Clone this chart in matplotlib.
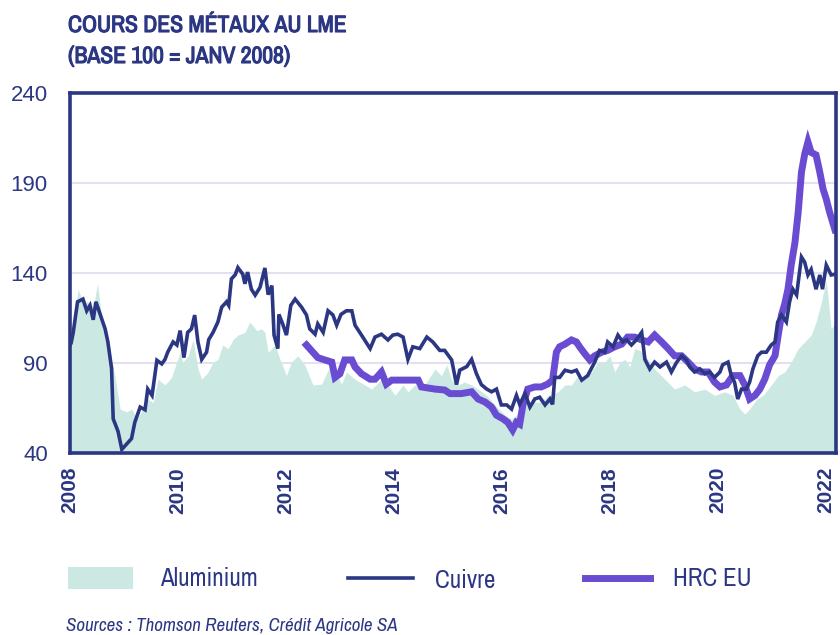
import matplotlib
matplotlib.use("Agg")
import matplotlib.pyplot as plt
from matplotlib.patches import Rectangle
from matplotlib.lines import Line2D
from matplotlib import font_manager
import matplotlib.patheffects as pe

# ---------------- data (decimal years, index base 100 = Jan 2008) -------------
cuivre_years = [2008.00, 2008.02, 2008.06, 2008.14, 2008.24, 2008.31, 2008.37, 2008.43, 2008.48, 2008.56,
                2008.65, 2008.70, 2008.77, 2008.80, 2008.89, 2008.96, 2009.05, 2009.14, 2009.20, 2009.30,
                2009.39, 2009.44, 2009.52, 2009.61, 2009.70, 2009.76, 2009.81, 2009.91, 2009.98, 2010.04,
                2010.11, 2010.18, 2010.25, 2010.31, 2010.37, 2010.44, 2010.53, 2010.57, 2010.65, 2010.74,
                2010.81, 2010.90, 2010.94, 2010.99, 2011.06, 2011.11, 2011.20, 2011.24, 2011.29, 2011.36,
                2011.43, 2011.52, 2011.61, 2011.67, 2011.74, 2011.78, 2011.85, 2011.87, 2011.94, 2012.01,
                2012.09, 2012.17, 2012.29, 2012.38, 2012.44, 2012.54, 2012.59, 2012.69, 2012.78, 2012.87,
                2012.94, 2013.02, 2013.12, 2013.22, 2013.28, 2013.40, 2013.56, 2013.65, 2013.77, 2013.89,
                2013.98, 2014.07, 2014.17, 2014.26, 2014.35, 2014.48, 2014.61, 2014.72, 2014.85, 2014.94,
                2015.07, 2015.16, 2015.22, 2015.35, 2015.44, 2015.53, 2015.62, 2015.72, 2015.81, 2015.90,
                2015.99, 2016.09, 2016.18, 2016.27, 2016.33, 2016.43, 2016.52, 2016.61, 2016.70, 2016.80,
                2016.89, 2016.94, 2016.98, 2017.07, 2017.17, 2017.29, 2017.38, 2017.48, 2017.59, 2017.72,
                2017.81, 2017.91, 2017.96, 2018.06, 2018.15, 2018.24, 2018.31, 2018.40, 2018.49, 2018.59,
                2018.65, 2018.74, 2018.83, 2018.93, 2019.05, 2019.14, 2019.24, 2019.33, 2019.42, 2019.48,
                2019.57, 2019.67, 2019.76, 2019.85, 2019.94, 2020.04, 2020.09, 2020.19, 2020.25, 2020.31,
                2020.37, 2020.44, 2020.53, 2020.59, 2020.65, 2020.74, 2020.81, 2020.90, 2020.99, 2021.06,
                2021.11, 2021.18, 2021.27, 2021.33, 2021.39, 2021.46, 2021.55, 2021.61, 2021.67, 2021.73,
                2021.82, 2021.89, 2021.94, 2022.01, 2022.10, 2022.19]
cuivre_values = [100, 101, 107, 124, 125.5, 119, 122, 114, 124, 117,
                 109, 102, 87, 59, 52, 42, 45, 48, 57, 65.5,
                 64, 75.5, 72, 91.5, 89.5, 92, 96, 101.7, 100, 108,
                 93, 107, 109, 116.6, 101.7, 92, 96, 103, 107, 112.8,
                 121, 124, 122, 136.7, 139, 143, 139.4, 134, 140.5, 131,
                 127.7, 132, 142.8, 128, 133, 105.5, 98, 117, 111.7, 105.5,
                 122, 125.5, 121, 116.7, 109, 106, 111.7, 107, 119, 116.7,
                 111, 117, 119, 119, 111, 105.5, 98, 104.4, 106, 102.8,
                 105.5, 106, 104.4, 92, 99, 98, 104.4, 101.7, 97, 97,
                 91.7, 78, 86, 88, 92, 84, 78, 75.5, 74, 75.5,
                 66.7, 66.7, 64.4, 72, 67, 73, 65.5, 70, 71, 66.7,
                 70, 67, 82, 82, 86, 85, 86, 80.5, 83, 90.5,
                 97, 96, 101.7, 99, 105.5, 101.7, 103, 100, 102.8, 107,
                 92, 86.7, 90.5, 87.8, 90.5, 85, 90.5, 94, 91.7, 87.8,
                 85, 86.7, 84, 85, 82, 85, 89, 90.5, 83, 79.4,
                 70, 75.5, 75.5, 79.4, 86.7, 94, 96, 96, 100, 101.7,
                 112.8, 116.7, 112.8, 124, 131, 127.8, 148.9, 146, 138.9, 142,
                 131, 138.9, 131, 144.4, 138.9, 139.4]

hrc_years = [2012.38, 2012.50, 2012.59, 2012.72, 2012.85, 2012.91, 2013.00, 2013.09, 2013.22, 2013.28,
             2013.40, 2013.56, 2013.65, 2013.77, 2013.86, 2013.96, 2014.14, 2014.45, 2014.51, 2014.76,
             2014.94, 2015.04, 2015.25, 2015.44, 2015.56, 2015.69, 2015.81, 2015.90, 2016.02, 2016.11,
             2016.20, 2016.27, 2016.33, 2016.39, 2016.48, 2016.61, 2016.73, 2016.85, 2016.94, 2017.01,
             2017.07, 2017.17, 2017.29, 2017.38, 2017.44, 2017.54, 2017.63, 2017.72, 2017.85, 2017.96,
             2018.09, 2018.22, 2018.33, 2018.46, 2018.59, 2018.71, 2018.83, 2018.96, 2019.08, 2019.20,
             2019.33, 2019.45, 2019.57, 2019.70, 2019.82, 2019.94, 2020.04, 2020.16, 2020.28, 2020.41,
             2020.50, 2020.59, 2020.69, 2020.78, 2020.87, 2020.96, 2021.06, 2021.12, 2021.18, 2021.24,
             2021.30, 2021.36, 2021.43, 2021.49, 2021.55, 2021.61, 2021.67, 2021.73, 2021.82, 2021.89,
             2021.95, 2022.01, 2022.07, 2022.17]
hrc_values = [100, 96, 93, 91.7, 90.5, 82, 84, 91.7, 91.7, 87.8,
              84, 81, 81, 85, 78.3, 80.5, 80.5, 80.5, 76.7, 75.5,
              75, 73, 73, 74, 70, 68.3, 65.5, 61, 59, 57,
              52.8, 57, 56, 66.7, 75.5, 76.7, 76.7, 78.3, 80.5, 96,
              99, 100.5, 102.8, 101.7, 99, 95, 91.7, 94, 96, 97,
              99, 100.5, 104.4, 104.4, 102.8, 101.7, 105.5, 101.7, 98, 94,
              94, 90.5, 86.7, 85, 85, 79.4, 76.7, 77.8, 83, 83,
              77.8, 70, 72, 75.5, 81, 89, 94, 105.5, 116.7, 122.8,
              131, 144.4, 157, 173.9, 196, 206, 212.8, 207, 205.6, 196,
              186.7, 181, 174, 164]

alu_years = [2008.00, 2008.02, 2008.15, 2008.24, 2008.33, 2008.43, 2008.51, 2008.59, 2008.68, 2008.77,
             2008.83, 2008.93, 2009.05, 2009.14, 2009.24, 2009.35, 2009.44, 2009.54, 2009.63, 2009.76,
             2009.88, 2010.04, 2010.09, 2010.19, 2010.28, 2010.37, 2010.44, 2010.56, 2010.65, 2010.74,
             2010.83, 2010.93, 2011.02, 2011.11, 2011.24, 2011.33, 2011.46, 2011.55, 2011.61, 2011.67,
             2011.80, 2011.89, 2012.01, 2012.10, 2012.22, 2012.35, 2012.50, 2012.66, 2012.81, 2012.91,
             2013.03, 2013.12, 2013.28, 2013.46, 2013.59, 2013.77, 2013.89, 2014.02, 2014.17, 2014.26,
             2014.39, 2014.51, 2014.64, 2014.76, 2014.88, 2014.98, 2015.07, 2015.19, 2015.31, 2015.44,
             2015.56, 2015.72, 2015.87, 2016.06, 2016.18, 2016.27, 2016.39, 2016.55, 2016.73, 2016.86,
             2017.04, 2017.17, 2017.29, 2017.41, 2017.54, 2017.66, 2017.78, 2017.91, 2018.00, 2018.09,
             2018.19, 2018.28, 2018.37, 2018.46, 2018.56, 2018.65, 2018.83, 2019.02, 2019.20, 2019.39,
             2019.57, 2019.76, 2019.94, 2020.13, 2020.28, 2020.41, 2020.50, 2020.59, 2020.72, 2020.84,
             2020.99, 2021.12, 2021.24, 2021.36, 2021.49, 2021.61, 2021.73, 2021.82, 2021.92, 2022.01,
             2022.10, 2022.19]
alu_values = [100, 105.5, 131, 124, 124, 121, 134, 114.4, 107, 92,
              83, 64.4, 62.8, 64.4, 59, 64.4, 70, 68, 81, 77.8,
              82, 96, 90.5, 94, 103, 86.7, 81, 85, 90.5, 92,
              100, 98, 103, 105.5, 107, 112.8, 108, 109, 107, 96,
              100, 92, 83, 90.5, 94, 88.9, 77.8, 78.3, 87.8, 85,
              78.3, 85, 81, 77.8, 75.5, 81, 77.8, 72, 77.8, 74,
              77.8, 75.5, 81, 86.7, 83, 89, 80.5, 77.8, 79.4, 77.8,
              75.5, 72, 66.7, 61, 59, 61, 66.7, 68.3, 68.3, 72,
              74, 77.8, 77.8, 83, 81, 85, 90.5, 90.5, 94, 85,
              90.5, 92, 87.8, 98, 97, 94, 86.7, 81, 75.5, 77.8,
              74, 75.5, 72, 74, 72, 64.4, 61.7, 64.4, 70, 72,
              77.8, 83, 85, 90.5, 98, 101.7, 105.5, 112.8, 124, 136,
              109, 112.8]

year_ticks = [2008, 2010, 2012, 2014, 2016, 2018, 2020, 2022]
value_ticks = [40, 90, 140, 190, 240]

title_lines = ["COURS DES MÉTAUX AU LME", "(BASE 100 = JANV 2008)"]
source = "Sources : Thomson Reuters, Crédit Agricole SA"
labels = ["Aluminium", "Cuivre", "HRC EU"]

# ---------------- style ----------------
NAVY = "#2c3783"
PURPLE = "#6a4cd2"
ALU = "#cbe9e2"
GRID = "#e3e0ef"

# pick a condensed family if one is installed
cond_family, cond_stretch = None, "normal"
for f in font_manager.fontManager.ttflist:
    if "Narrow" in f.name or "Condensed" in f.name:
        cond_family, cond_stretch = f.name, "normal"
        break
if cond_family is None:
    for f in font_manager.fontManager.ttflist:
        if str(f.stretch) in ("condensed", "semi-condensed", "extra-condensed") and "DejaVu" in f.name:
            cond_family, cond_stretch = f.name, "condensed"
            break
if cond_family is None:
    cond_family = "Liberation Sans"

plt.rcParams["font.family"] = [cond_family, "DejaVu Sans"]
plt.rcParams["font.stretch"] = cond_stretch
narrow = cond_family != "Liberation Sans"
k = 1.0 if narrow else 0.82   # shrink text if no condensed face exists

fig = plt.figure(figsize=(8.4, 6.35), dpi=100)
ax = fig.add_axes([70 / 840, 1 - 453 / 635, 766 / 840, 360 / 635])

ax.fill_between(alu_years, 0, alu_values, color=ALU, lw=0, zorder=1)
ax.plot(cuivre_years, cuivre_values, color=NAVY, lw=2.6, zorder=3, solid_joinstyle="miter")
ax.plot(hrc_years, hrc_values, color=PURPLE, lw=5, zorder=2, solid_joinstyle="miter")

ax.set_xlim(2008.0, 2022.19)
ax.set_ylim(40, 240)
ax.set_yticks(value_ticks)
ax.set_xticks(year_ticks)
ax.set_xticklabels([str(y) for y in year_ticks], rotation=90, fontweight="bold",
                   fontsize=15, color=NAVY, family=["Liberation Sans", "DejaVu Sans"])
ax.set_yticklabels([str(v) for v in value_ticks], fontsize=16 * k + (0 if narrow else 1), color=NAVY,
                   family=["Liberation Sans", "DejaVu Sans"])
ax.tick_params(axis="both", length=0)
ax.tick_params(axis="y", pad=16)
ax.tick_params(axis="x", pad=10)
for v in value_ticks[1:-1]:
    ax.axhline(v, color=GRID, lw=1.5, zorder=0.5)
for s in ax.spines.values():
    s.set_color(NAVY)
    s.set_linewidth(2.6)
    s.set_zorder(5)

bold_fx = [pe.withStroke(linewidth=0.8, foreground=NAVY)]
for line, base_px in zip(title_lines, [32, 63]):
    fig.text(68 / 840, 1 - base_px / 635, line, ha="left", va="baseline", fontsize=17 * k,
             fontweight="bold", color=NAVY, path_effects=bold_fx)

# legend (manual, figure coordinates)
fig.add_artist(Rectangle((68 / 840, 1 - 589 / 635), 65 / 840, 22 / 635,
                         transform=fig.transFigure, color=ALU, lw=0))
fig.text(160 / 840, 1 - 578 / 635, labels[0], ha="left", va="center", fontsize=18 * k, color=NAVY)
fig.add_artist(Line2D([348 / 840, 413 / 840], [1 - 578 / 635] * 2, transform=fig.transFigure,
                      color=NAVY, lw=2.6))
fig.text(435 / 840, 1 - 581 / 635, labels[1], ha="left", va="center", fontsize=18 * k, color=NAVY)
fig.add_artist(Line2D([585 / 840, 650 / 840], [1 - 578 / 635] * 2, transform=fig.transFigure,
                      color=PURPLE, lw=5))
fig.text(673 / 840, 1 - 578 / 635, labels[2], ha="left", va="center", fontsize=18 * k, color=NAVY)

fig.text(66 / 840, 1 - 626 / 635, source, ha="left", va="center", fontsize=13.7 * k,
         style="italic", color=NAVY)

fig.savefig("out.png", dpi=100)
